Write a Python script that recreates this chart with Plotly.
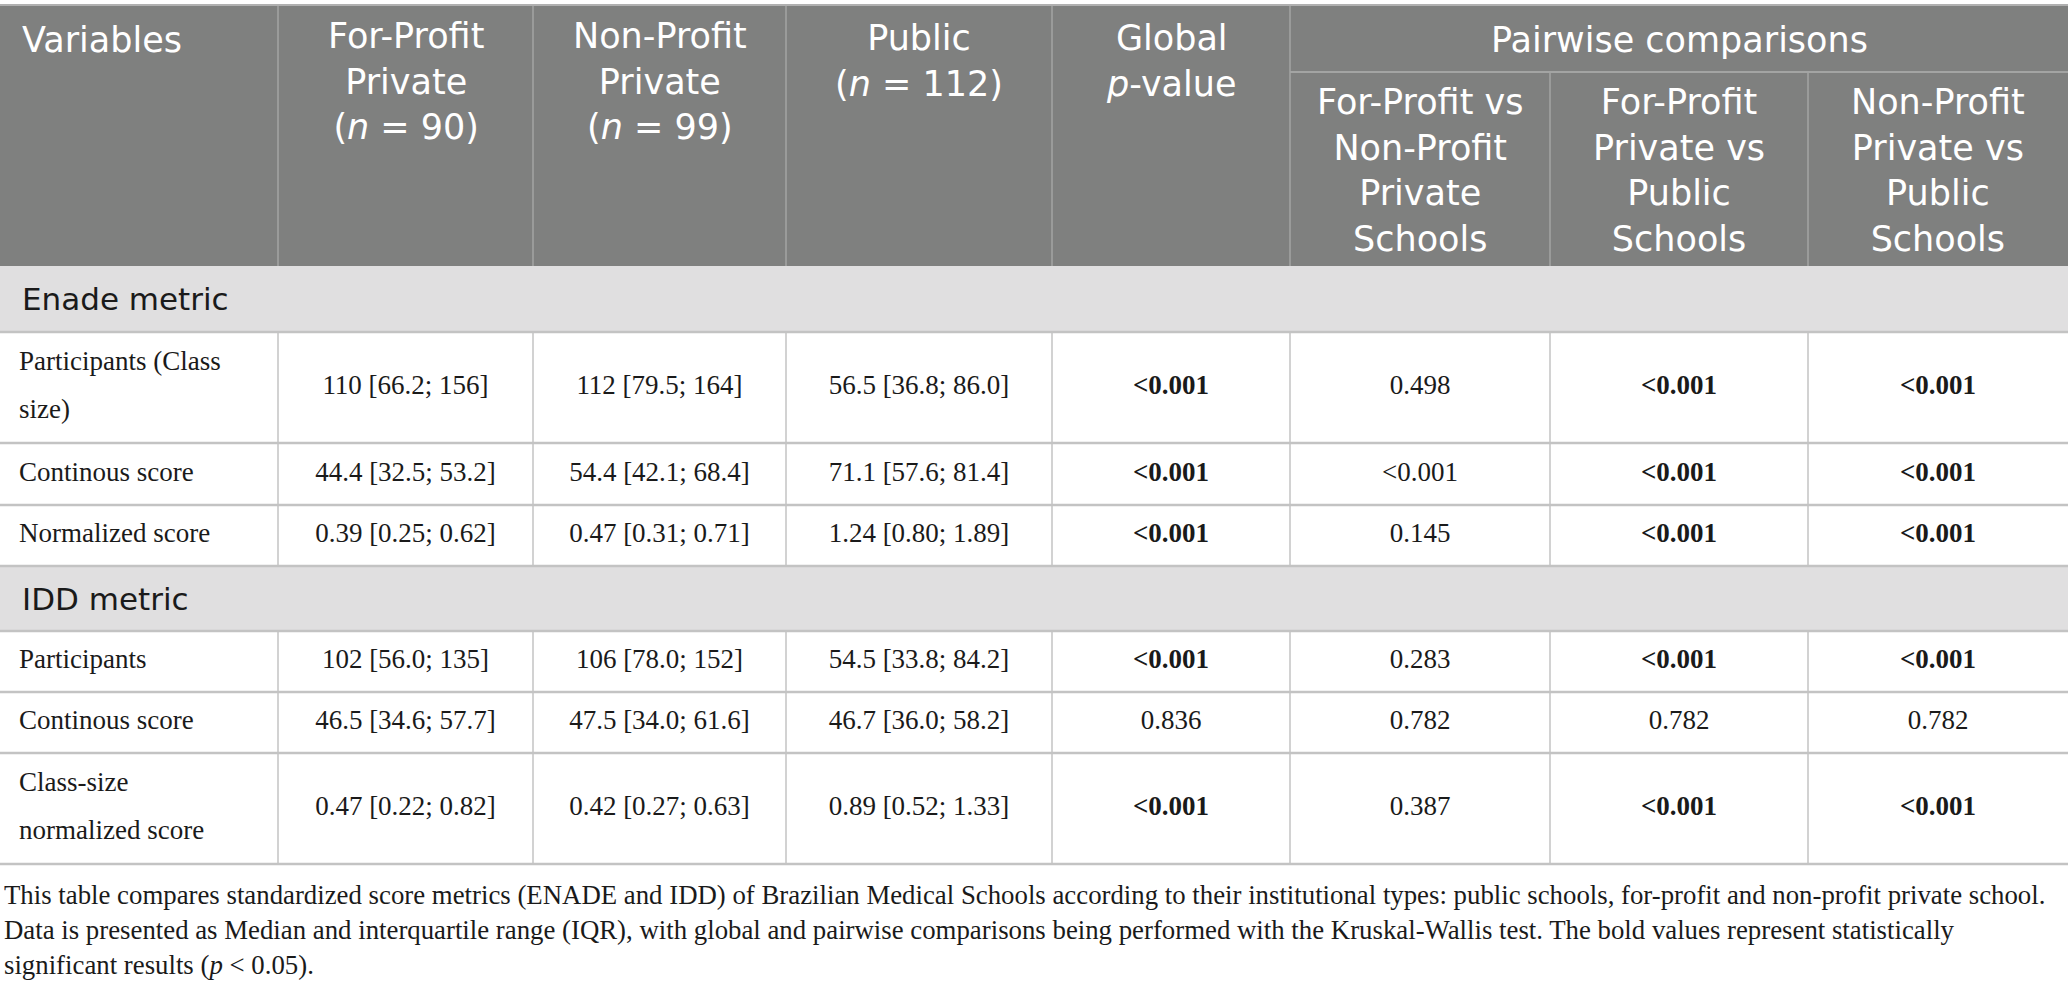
import plotly.graph_objects as go

# ---------------- data ----------------
groups = ["Enade metric", "IDD metric"]
variables = [
    ["Participants (Class", "size)"],
    ["Continous score"],
    ["Normalized score"],
    ["Participants"],
    ["Continous score"],
    ["Class-size", "normalized score"],
]
row_group = [0, 0, 0, 1, 1, 1]
for_profit = ["110 [66.2; 156]", "44.4 [32.5; 53.2]", "0.39 [0.25; 0.62]",
              "102 [56.0; 135]", "46.5 [34.6; 57.7]", "0.47 [0.22; 0.82]"]
non_profit = ["112 [79.5; 164]", "54.4 [42.1; 68.4]", "0.47 [0.31; 0.71]",
              "106 [78.0; 152]", "47.5 [34.0; 61.6]", "0.42 [0.27; 0.63]"]
public = ["56.5 [36.8; 86.0]", "71.1 [57.6; 81.4]", "1.24 [0.80; 1.89]",
          "54.5 [33.8; 84.2]", "46.7 [36.0; 58.2]", "0.89 [0.52; 1.33]"]
global_p = ["<0.001", "<0.001", "<0.001", "<0.001", "0.836", "<0.001"]
fp_vs_np = ["0.498", "<0.001", "0.145", "0.283", "0.782", "0.387"]
fp_vs_pub = ["<0.001", "<0.001", "<0.001", "<0.001", "0.782", "<0.001"]
np_vs_pub = ["<0.001", "<0.001", "<0.001", "<0.001", "0.782", "<0.001"]
# bold (significant) flags as printed in the table
global_bold = [1, 1, 1, 1, 0, 1]
fp_np_bold = [0, 0, 0, 0, 0, 0]
fp_pub_bold = [1, 1, 1, 1, 0, 1]
np_pub_bold = [1, 1, 1, 1, 0, 1]

header_main = [
    ["Variables"],
    ["For-Profit", "Private", "(<i>n</i> = 90)"],
    ["Non-Profit", "Private", "(<i>n</i> = 99)"],
    ["Public", "(<i>n</i> = 112)"],
    ["Global", "<i>p</i>-value"],
]
header_span = "Pairwise comparisons"
header_sub = [
    ["For-Profit vs", "Non-Profit", "Private", "Schools"],
    ["For-Profit", "Private vs", "Public", "Schools"],
    ["Non-Profit", "Private vs", "Public", "Schools"],
]
footnote = [
    "This table compares standardized score metrics (ENADE and IDD) of Brazilian Medical Schools according to their institutional types: public schools, for-profit and non-profit private school.",
    "Data is presented as Median and interquartile range (IQR), with global and pairwise comparisons being performed with the Kruskal-Wallis test. The bold values represent statistically",
    "significant results (<i>p</i> &lt; 0.05).",
]

# ---------------- layout geometry ----------------
W, H = 2068, 992
col_w = [278, 255, 253, 266, 238, 260, 258, 260]
col_x = [0]
for w in col_w:
    col_x.append(col_x[-1] + w)
top = 5
header_bottom = 266
sub_line = 72
group_h = [66, 65]
row_h = [111, 62, 61, 61, 61, 111]

HEAD_BG = "#7f807f"
HEAD_LINE = "#a3a4a3"
GROUP_BG = "#e0dfe0"
GRID = "#c3c3c3"
SANS = "DejaVu Sans"
SERIF = "Liberation Serif"
HFONT = dict(family=SANS, size=35, color="white")

shapes = []
annotations = []

shapes.append(dict(type="rect", x0=0, x1=W, y0=top, y1=header_bottom,
                   fillcolor=HEAD_BG, line_width=0, layer="below"))
for i in range(1, 8):
    y0 = sub_line if i >= 6 else top
    shapes.append(dict(type="line", x0=col_x[i], x1=col_x[i], y0=y0, y1=header_bottom,
                       line=dict(color=HEAD_LINE, width=1.5)))
shapes.append(dict(type="line", x0=col_x[5], x1=W, y0=sub_line, y1=sub_line,
                   line=dict(color=HEAD_LINE, width=2)))
shapes.append(dict(type="line", x0=0, x1=W, y0=top, y1=top,
                   line=dict(color="#b0b0b0", width=2)))

line_step = 41.7
first_line = 40
for c, lines in enumerate(header_main):
    n = len(lines)
    yc = first_line + (n - 1) * line_step / 2
    if c == 0:
        annotations.append(dict(x=col_x[0] + 20, y=yc, text="<br>".join(lines), xanchor="left",
                                align="left", yanchor="middle", showarrow=False, font=HFONT))
    else:
        annotations.append(dict(x=(col_x[c] + col_x[c + 1]) / 2, y=yc, text="<br>".join(lines),
                                xanchor="center", align="center", yanchor="middle",
                                showarrow=False, font=HFONT))
annotations.append(dict(x=(col_x[5] + col_x[8]) / 2, y=first_line, text=header_span,
                        xanchor="center", yanchor="middle", showarrow=False, font=HFONT))
sub_first = 108
for j, lines in enumerate(header_sub):
    c = 5 + j
    n = len(lines)
    yc = sub_first + (n - 1) * line_step / 2
    annotations.append(dict(x=(col_x[c] + col_x[c + 1]) / 2, y=yc, text="<br>".join(lines),
                            xanchor="center", align="center", yanchor="middle",
                            showarrow=False, font=HFONT))

row_top = []
row_center = []
y = header_bottom
for r in range(len(variables)):
    if r == 0 or row_group[r] != row_group[r - 1]:
        g = row_group[r]
        shapes.append(dict(type="rect", x0=0, x1=W, y0=y, y1=y + group_h[g],
                           fillcolor=GROUP_BG, line_width=0, layer="below"))
        annotations.append(dict(x=20, y=y + group_h[g] / 2, text=groups[g], xanchor="left",
                                yanchor="middle", showarrow=False,
                                font=dict(family=SANS, size=31, color="#1a1a1a")))
        shapes.append(dict(type="line", x0=0, x1=W, y0=y + group_h[g], y1=y + group_h[g],
                           line=dict(color=GRID, width=2.5)))
        y += group_h[g]
    row_top.append(y)
    row_center.append(y + row_h[r] / 2)
    y += row_h[r]
    shapes.append(dict(type="line", x0=0, x1=W, y0=y, y1=y,
                       line=dict(color=GRID, width=2.5)))
table_bottom = y

for r in range(len(variables)):
    for i in range(1, 8):
        shapes.append(dict(type="line", x0=col_x[i], x1=col_x[i], y0=row_top[r],
                           y1=row_top[r] + row_h[r], line=dict(color=GRID, width=1.5)))

def fmt(v, b):
    v = v.replace("<", "&lt;")
    return f"<b>{v}</b>" if b else v

columns = [
    (for_profit, [0] * 6),
    (non_profit, [0] * 6),
    (public, [0] * 6),
    (global_p, global_bold),
    (fp_vs_np, fp_np_bold),
    (fp_vs_pub, fp_pub_bold),
    (np_vs_pub, np_pub_bold),
]
xs, ys, texts = [], [], []
for ci, (vals, bolds) in enumerate(columns):
    c = ci + 1
    for r, v in enumerate(vals):
        xs.append((col_x[c] + col_x[c + 1]) / 2)
        ys.append(row_center[r])
        texts.append(fmt(v, bolds[r]))

fig = go.Figure()
fig.add_trace(go.Scatter(x=xs, y=ys, text=texts, mode="text", textposition="middle center",
                         textfont=dict(family=SERIF, size=27, color="#1a1a1a"),
                         hoverinfo="skip", showlegend=False, cliponaxis=False))

lx, ly, lt = [], [], []
for r, lines in enumerate(variables):
    n = len(lines)
    for k, t in enumerate(lines):
        lx.append(19)
        ly.append(row_center[r] + (k - (n - 1) / 2) * 48)
        lt.append(t)
fig.add_trace(go.Scatter(x=lx, y=ly, text=lt, mode="text", textposition="middle right",
                         textfont=dict(family=SERIF, size=27, color="#1a1a1a"),
                         hoverinfo="skip", showlegend=False, cliponaxis=False))

annotations.append(dict(x=2, y=table_bottom + 66, text="<br>".join(footnote), xanchor="left",
                        align="left", yanchor="middle", showarrow=False,
                        font=dict(family=SERIF, size=26.8, color="#1a1a1a")))

fig.update_layout(
    width=W, height=H,
    margin=dict(l=0, r=0, t=0, b=0),
    paper_bgcolor="white", plot_bgcolor="white",
    xaxis=dict(range=[0, W], visible=False, fixedrange=True),
    yaxis=dict(range=[H, 0], visible=False, fixedrange=True),
    shapes=shapes, annotations=annotations,
)
fig.write_html("out.html", config={"displayModeBar": False},
               post_script="document.body.style.margin='0';")
